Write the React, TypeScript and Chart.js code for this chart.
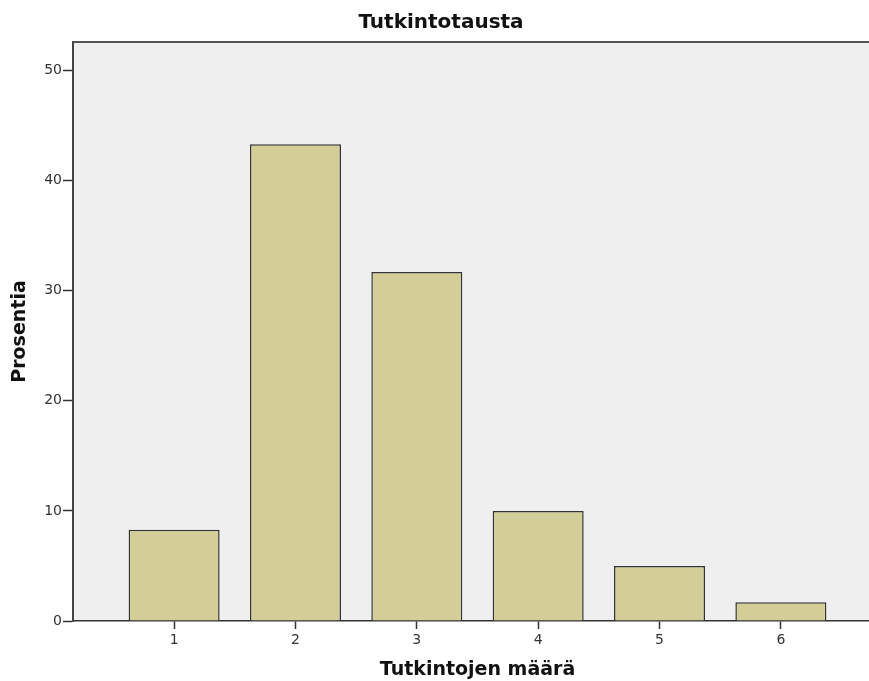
import React, { useEffect, useRef } from "react";
import { Chart, registerables } from "chart.js";

Chart.register(...registerables);

const chartTitle = "Tutkintotausta";
const xTitle = "Tutkintojen määrä";
const yTitle = "Prosentia";
const categories = [1, 2, 3, 4, 5, 6];
const percents = [8.3, 43.3, 31.7, 10.0, 5.0, 1.7];
const yTicks = [0, 10, 20, 30, 40, 50];

const FONT = "'DejaVu Sans', sans-serif";

const plotBg = {
  id: "plotBg",
  beforeDraw(chart: any) {
    const { ctx, chartArea } = chart;
    if (!chartArea) return;
    ctx.save();
    ctx.fillStyle = "#efefef";
    ctx.fillRect(chartArea.left, chartArea.top, chartArea.right - chartArea.left, chartArea.bottom - chartArea.top);
    ctx.restore();
  },
  afterDraw(chart: any) {
    const { ctx, chartArea } = chart;
    if (!chartArea) return;
    ctx.save();
    ctx.strokeStyle = "#555";
    ctx.lineWidth = 2;
    ctx.beginPath();
    ctx.moveTo(chartArea.left, chartArea.top);
    ctx.lineTo(chartArea.right, chartArea.top);
    ctx.stroke();
    ctx.restore();
  },
};

export default function App() {
  const ref = useRef<HTMLCanvasElement | null>(null);

  useEffect(() => {
    if (!ref.current) return;
    const chart = new Chart(ref.current, {
      type: "bar",
      data: {
        datasets: [
          {
            label: yTitle,
            data: categories.map((c, i) => ({ x: c, y: percents[i] })),
            backgroundColor: "#d3ce98",
            borderColor: "#333",
            borderWidth: 1.5,
            barPercentage: 0.75,
            categoryPercentage: 1,
          },
        ],
      },
      options: {
        responsive: false,
        animation: false,
        layout: { padding: 0 },
        plugins: {
          legend: { display: false },
          tooltip: { enabled: false },
          title: {
            display: true,
            text: chartTitle,
            color: "#111",
            font: { family: FONT, size: 20, weight: "bold", lineHeight: 1.2 },
            padding: { top: 11, bottom: 7 },
          },
        },
        scales: {
          x: {
            type: "linear",
            offset: false,
            min: 1 / 6,
            max: 6 + 5 / 6,
            afterBuildTicks: (scale: any) => {
              scale.ticks = categories.map((v) => ({ value: v }));
            },
            afterFit: (scale: any) => {
              scale.height = 60;
            },
            ticks: {
              color: "#333",
              font: { family: FONT, size: 14 },
              padding: 3,
              maxRotation: 0,
              autoSkip: false,
            },
            grid: {
              offset: false,
              drawOnChartArea: false,
              drawTicks: true,
              tickLength: 8,
              tickColor: "#333",
              tickWidth: 1.5,
            },
            border: { display: true, color: "#333", width: 1.5 },
            title: {
              display: true,
              text: xTitle,
              color: "#111",
              font: { family: FONT, size: 19, weight: "bold", lineHeight: 1.2 },
              padding: { top: 0, bottom: 0 },
            },
          },
          y: {
            type: "linear",
            min: 0,
            max: 52.6,
            afterBuildTicks: (scale: any) => {
              scale.ticks = yTicks.map((v) => ({ value: v }));
            },
            afterFit: (scale: any) => {
              scale.width = 73;
            },
            ticks: {
              color: "#333",
              font: { family: FONT, size: 14 },
              padding: 1,
            },
            grid: {
              drawOnChartArea: false,
              drawTicks: true,
              tickLength: 10,
              tickColor: "#333",
              tickWidth: 1.5,
            },
            border: { display: true, color: "#444", width: 2 },
            title: {
              display: true,
              text: yTitle,
              color: "#111",
              font: { family: FONT, size: 19, weight: "bold", lineHeight: 1.2 },
              padding: { top: 9, bottom: 0 },
            },
          },
        },
      } as any,
      plugins: [plotBg],
    });
    return () => chart.destroy();
  }, []);

  return (
    <div style={{ position: "fixed", left: 0, top: 0, width: 869, height: 681, overflow: "hidden", background: "#fff" }}>
      <canvas ref={ref} width={882} height={681} style={{ display: "block" }} />
    </div>
  );
}
